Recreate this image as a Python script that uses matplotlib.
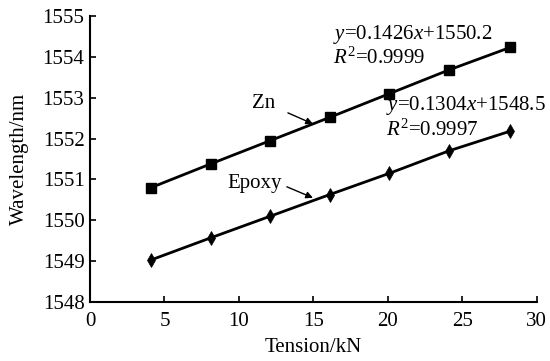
import numpy as np
import matplotlib.pyplot as plt

plt.rcParams['font.family'] = ['Liberation Serif', 'DejaVu Serif']
plt.rcParams['mathtext.fontset'] = 'custom'
plt.rcParams['mathtext.rm'] = 'Liberation Serif'
plt.rcParams['mathtext.it'] = 'Liberation Serif:italic'

# data
tension = [4.1, 8.1, 12.1, 16.1, 20.1, 24.1, 28.2]
zn = [1550.80, 1551.38, 1551.95, 1552.52, 1553.10, 1553.68, 1554.23]
epoxy = [1549.03, 1549.57, 1550.10, 1550.63, 1551.15, 1551.70, 1552.18]
xticks = [0, 5, 10, 15, 20, 25, 30]
yticks = [1548, 1549, 1550, 1551, 1552, 1553, 1554, 1555]

fig = plt.figure(figsize=(5.5, 3.61), dpi=100)
ax = fig.add_axes([0.1636, 0.1634, 0.8124, 0.7922])

ax.plot(tension, zn, color='black', lw=2, marker='s', ms=6.5)
ax.plot(tension, epoxy, color='black', lw=2, marker='d', ms=7, mew=0.5)

ax.set_xlim(0, 30)
ax.set_ylim(1548, 1555)
ax.set_xticks(xticks)
ax.set_yticks(yticks)
ax.tick_params(direction='in', length=4, width=1.2, labelsize=15, pad=4)
ax.tick_params(axis='x', pad=7)
for s in ['top', 'right']:
    ax.spines[s].set_visible(False)
for s in ['left', 'bottom']:
    ax.spines[s].set_linewidth(1.5)

ax.set_xlabel('Tension/kN', fontsize=15, labelpad=5)
ax.set_ylabel('Wavelength/nm', fontsize=15, labelpad=10)

# fit equations
fs = 15
ax.text(16.3, 1554.56, r'$y$=0.1426$x$+1550.2', fontsize=fs, va='center')
ax.text(16.3, 1553.97, r'$R^2$=0.9999', fontsize=fs, va='center')
ax.text(19.85, 1552.80, r'$y$=0.1304$x$+1548.5', fontsize=fs, va='center',
        clip_on=False)
ax.text(19.85, 1552.21, r'$R^2$=0.9997', fontsize=fs, va='center')

# labels with arrows
arr = dict(arrowstyle='-|>', color='black', lw=1, mutation_scale=10,
           shrinkA=0, shrinkB=0)
ax.text(11.68, 1552.85, 'Zn', fontsize=fs, ha='center', va='center')
ax.annotate('', xy=(14.97, 1552.36), xytext=(13.29, 1552.63), arrowprops=arr)
ax.text(11.07, 1550.91, 'Epoxy', fontsize=fs, ha='center', va='center')
ax.annotate('', xy=(14.97, 1550.55), xytext=(13.22, 1550.82), arrowprops=arr)

fig.savefig('out.png', dpi=100)
